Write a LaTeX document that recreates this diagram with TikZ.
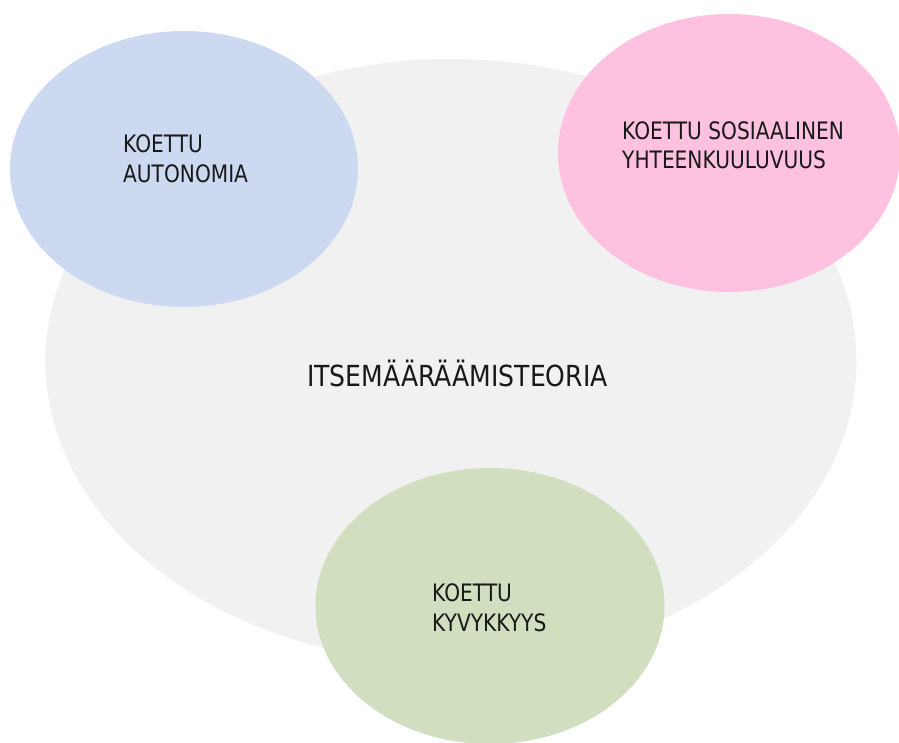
\documentclass[tikz,border=0pt]{standalone}
\usepackage{fontspec}
\setmainfont{DejaVu Sans}[FakeStretch=0.84]
\newfontfamily\bigfont{DejaVu Sans}[FakeStretch=0.865]
\usetikzlibrary{shapes.geometric}
\definecolor{bgGrey}{RGB}{241,241,241}
\definecolor{cBlue}{RGB}{205,217,240}
\definecolor{cPink}{RGB}{254,193,224}
\definecolor{cGreen}{RGB}{209,222,192}
\definecolor{txt}{RGB}{25,25,25}
\tikzset{
  blob/.style={ellipse, inner sep=0pt, draw=none},
  lbl/.style={anchor=base west, inner sep=0pt, text=txt, font=\fontsize{24}{29}\selectfont},
  bigl/.style={anchor=base west, inner sep=0pt, text=txt, font=\bigfont\fontsize{29}{34}\selectfont}
}
\begin{document}
\begin{tikzpicture}[x=1pt,y=-1pt]
\useasboundingbox (0,0) rectangle (899,742);
\clip (0,0) rectangle (899,742);
\fill[white] (0,0) rectangle (899,742);
\node[blob, fill=bgGrey, minimum width=811pt, minimum height=604pt] (theory) at (451,361) {};
\node[blob, fill=cBlue, minimum width=348pt, minimum height=276pt] (auto) at (184,169) {};
\node[blob, fill=cPink, minimum width=342pt, minimum height=278pt] (soc) at (729,153) {};
\node[blob, fill=cGreen, minimum width=349pt, minimum height=276pt] (kyv) at (490,606) {};
\node[bigl] (tlabel) at (307,386) {ITSEMÄÄRÄÄMISTEORIA};
\node[lbl] (a1) at (123,152) {KOETTU};
\node[lbl] (a2) at (123,182) {AUTONOMIA};
\node[lbl] (s1) at (622,139) {KOETTU SOSIAALINEN};
\node[lbl] (s2) at (622,168) {YHTEENKUULUVUUS};
\node[lbl] (k1) at (432,601) {KOETTU};
\node[lbl] (k2) at (432,631) {KYVYKKYYS};
\end{tikzpicture}
\end{document}
